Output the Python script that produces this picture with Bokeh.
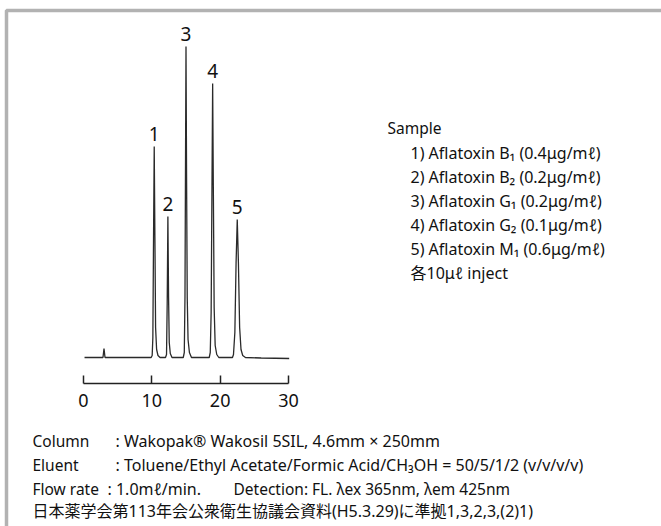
from bokeh.plotting import figure
from bokeh.models import Range1d, LinearAxis, FixedTicker, Label, BoxAnnotation
from bokeh.core.properties import value
from bokeh.embed import file_html
from bokeh.resources import INLINE

# ---------------- data ----------------
time_min = [0.15, 2.85, 3.0, 3.15,
            9.9, 10.05, 10.15, 10.25, 10.35, 10.45, 10.55, 10.7, 10.9, 11.2,
            12.0, 12.15, 12.25, 12.35, 12.45, 12.55, 12.7, 12.95,
            14.6, 14.75, 14.85, 14.92, 15.0, 15.08, 15.18, 15.3, 15.5, 15.8,
            18.4, 18.55, 18.68, 18.8, 18.9, 19.0, 19.12, 19.27, 19.5, 19.8,
            21.8, 21.95, 22.15, 22.33, 22.5, 22.67, 22.85, 23.05, 23.3, 23.7,
            26.0, 30.1]
signal = [0, 0, 9, 0,
          0, 2, 20, 120, 211, 120, 30, 8, 2, 0,
          0, 3, 55, 141, 60, 15, 4, 0,
          0, 5, 60, 180, 311, 185, 60, 18, 5, 0,
          0, 5, 45, 170, 274, 170, 50, 12, 3, 0,
          0, 3, 25, 95, 138, 95, 30, 8, 2, 0,
          -0.5, -1]

peak_ids = ["1", "2", "3", "4", "5"]
peak_times = [10.35, 12.35, 15.0, 18.9, 22.5]
peak_heights = [211, 141, 311, 274, 138]

axis_ticks = [0, 10, 20, 30]

sample_title = "Sample"
sample_lines = [
    "1) Aflatoxin B\u2081 (0.4\u03bcg/m\u2113)",
    "2) Aflatoxin B\u2082 (0.2\u03bcg/m\u2113)",
    "3) Aflatoxin G\u2081 (0.2\u03bcg/m\u2113)",
    "4) Aflatoxin G\u2082 (0.1\u03bcg/m\u2113)",
    "5) Aflatoxin M\u2081 (0.6\u03bcg/m\u2113)",
    "各10\u03bc\u2113 inject",
]

cond_labels = ["Column", "Eluent", "Flow rate"]
cond_values = [
    ": Wakopak\u00ae Wakosil 5SIL, 4.6mm \u00d7 250mm",
    ": Toluene/Ethyl Acetate/Formic Acid/CH\u2083OH = 50/5/1/2 (v/v/v/v)",
    ": 1.0m\u2113/min.",
]
detection_text = "Detection: FL. \u03bbex 365nm, \u03bbem 425nm"
reference_note = "日本薬学会第113年会公衆衛生協議会資料(H5.3.29)に準拠1,3,2,3,(2)1)"

# ---------------- layout ----------------
W, H = 661, 526
FONT = "'Noto Sans', 'Noto Sans CJK JP'"
X0 = 83.0                 # pixel of t = 0
PPM = (288.0 - 83.0) / 30  # pixels per minute
BASE = 357.0              # pixel row of the baseline

p = figure(width=W, height=H,
           x_range=Range1d(-X0 / PPM, (W - X0) / PPM),
           y_range=Range1d(-(H - BASE), BASE),
           output_backend="svg", toolbar_location=None,
           x_axis_type=None, y_axis_type=None, min_border=0)
p.outline_line_color = None
p.background_fill_color = "white"
p.border_fill_color = "white"

# frame of the panel (top and left border)
p.add_layout(BoxAnnotation(left=6, right=W + 50, top=H - 10, bottom=-60,
                           left_units="screen", right_units="screen",
                           top_units="screen", bottom_units="screen",
                           fill_alpha=0, line_color="black", line_width=3.5))

# chromatogram trace
p.line(time_min, signal, line_color="#2a2a2a", line_width=1.3)

# peak labels
p.text(x=peak_times, y=peak_heights, text=peak_ids,
       text_font=value(FONT), text_font_size="19px", text_color="#111111",
       text_align="center", text_baseline="alphabetic", y_offset=-13)

# time axis
ax = LinearAxis(fixed_location=-(383 - BASE), bounds=(0, 30),
                ticker=FixedTicker(ticks=axis_ticks),
                major_tick_in=8, major_tick_out=0,
                minor_tick_in=0, minor_tick_out=0,
                axis_line_width=1.5, major_tick_line_width=1.5,
                axis_line_color="#222222", major_tick_line_color="#222222",
                major_label_text_font=FONT, major_label_text_font_size="18px",
                major_label_text_color="#111111", major_label_standoff=10)
p.add_layout(ax, "below")


def put(text, x, y, size="15.5px"):
    p.add_layout(Label(x=x, y=H - y, x_units="screen", y_units="screen",
                       text=text, text_font=FONT, text_font_size=size,
                       text_color="#111111", text_baseline="middle",
                       text_align="left"))


# sample legend
put(sample_title, 387, 127)
for i, line in enumerate(sample_lines):
    put(line, 410, 152 + 24 * i, size="16px")

# conditions
cond_y = [440, 464, 488]
cond_x = [115, 115, 107]
for lab, val, y, xv in zip(cond_labels, cond_values, cond_y, cond_x):
    put(lab, 32, y)
    put(val, xv, y, size="16px")
put(detection_text, 233, 488)
put(reference_note, 32, 510, size="16px")

open("out.html", "w").write(file_html(p, INLINE))
